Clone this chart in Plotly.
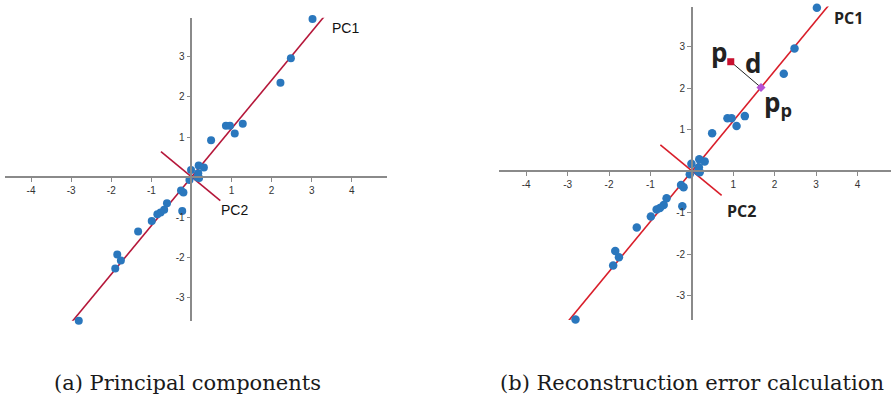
import plotly.graph_objects as go

# Data
pts_x = [3.02, 2.48, 2.22, 0.86, 0.96, 1.28, 1.08, 0.49, 0.18, 0.31, -0.01, 0.17, 0.15, -0.05, 0.19,
         -0.26, -0.20, -0.23, -0.61, -0.68, -0.77, -0.85, -0.99, -1.33, -1.85, -1.76, -1.90, -2.81]
pts_y = [3.94, 2.96, 2.35, 1.28, 1.28, 1.33, 1.09, 0.92, 0.29, 0.24, 0.18, 0.10, 0.00, -0.07, -0.02,
         -0.33, -0.38, -0.84, -0.65, -0.81, -0.88, -0.92, -1.09, -1.35, -1.92, -2.07, -2.27, -3.57]

pc1_x_a = [-3.09, 3.51]
pc1_y_a = [-3.73, 4.24]
pc1_x_b = [-3.02, 3.38]
pc1_y_b = [-3.65, 4.09]
pc2_x = [-0.76, 0.72]
pc2_y = [0.64, -0.58]

p_pt = [0.94, 2.64]
pp_pt = [1.67, 2.02]

x_ticks = [-4, -3, -2, -1, 1, 2, 3, 4]
y_ticks = [-3, -2, -1, 1, 2, 3]

W, H = 891, 400
RED_A = "#b5173a"
RED_B = "#d91e2a"
BLUE = "#2a77bd"
AXC = "#8a8a8a"

fig = go.Figure()

# Panel (a)
fig.add_trace(go.Scatter(x=pc1_x_a, y=pc1_y_a, mode="lines", line=dict(color=RED_A, width=1.6),
                         xaxis="x", yaxis="y", cliponaxis=False, hoverinfo="skip"))
fig.add_trace(go.Scatter(x=pc2_x, y=pc2_y, mode="lines", line=dict(color=RED_A, width=1.6),
                         xaxis="x", yaxis="y", cliponaxis=False, hoverinfo="skip"))
fig.add_trace(go.Scatter(x=pts_x, y=pts_y, mode="markers", marker=dict(color=BLUE, size=8),
                         xaxis="x", yaxis="y", cliponaxis=False))

# Panel (b)
fig.add_trace(go.Scatter(x=pc1_x_b, y=pc1_y_b, mode="lines", line=dict(color=RED_B, width=1.6),
                         xaxis="x2", yaxis="y2", cliponaxis=False, hoverinfo="skip"))
fig.add_trace(go.Scatter(x=pc2_x, y=pc2_y, mode="lines", line=dict(color=RED_B, width=1.6),
                         xaxis="x2", yaxis="y2", cliponaxis=False, hoverinfo="skip"))
fig.add_trace(go.Scatter(x=pts_x, y=pts_y, mode="markers", marker=dict(color=BLUE, size=8.5),
                         xaxis="x2", yaxis="y2", cliponaxis=False))
fig.add_trace(go.Scatter(x=[p_pt[0], pp_pt[0]], y=[p_pt[1], pp_pt[1]], mode="lines",
                         line=dict(color="#222222", width=1), xaxis="x2", yaxis="y2", cliponaxis=False))
fig.add_trace(go.Scatter(x=[p_pt[0]], y=[p_pt[1]], mode="markers",
                         marker=dict(color="#c8102e", size=7, symbol="square"),
                         xaxis="x2", yaxis="y2", cliponaxis=False))
fig.add_trace(go.Scatter(x=[pp_pt[0]], y=[pp_pt[1]], mode="markers",
                         marker=dict(color="#b452d6", size=7, symbol="diamond"),
                         xaxis="x2", yaxis="y2", cliponaxis=False))

# axis geometry (pixels -> paper)
def frac_x(px):
    return px / W

def frac_y(py):
    return (H - py) / H

xa_dom = [frac_x(5), frac_x(386.7)]
ya_dom = [frac_y(320.7), frac_y(17.7)]
xa_rng = [-4.65, 4.87]
ya_rng = [-3.57, 3.97]

xb_dom = [frac_x(499.3), 1.0]
yb_dom = [frac_y(320), frac_y(6.5)]
xb_rng = [-4.65, 4.81]
yb_rng = [-3.58, 3.97]

def zero_pos(dom, rng):
    return dom[0] + (0 - rng[0]) / (rng[1] - rng[0]) * (dom[1] - dom[0])

tickfont = dict(family="Liberation Sans, Arial, sans-serif", size=10, color="#333333")

def xaxis(dom, rng, anchor_pos):
    return dict(domain=dom, range=rng, anchor="free", position=anchor_pos,
                showline=True, linecolor=AXC, linewidth=1.6, showgrid=False, zeroline=False,
                ticks="outside", ticklen=4, tickcolor=AXC, tickwidth=1,
                tickvals=x_ticks, ticktext=[str(v) for v in x_ticks], tickfont=tickfont, fixedrange=True)

def yaxis(dom, rng, anchor_pos):
    return dict(domain=dom, range=rng, anchor="free", position=anchor_pos,
                showline=True, linecolor=AXC, linewidth=1.6, showgrid=False, zeroline=False,
                ticks="outside", ticklen=4, tickcolor=AXC, tickwidth=1,
                tickvals=y_ticks, ticktext=[str(v) for v in y_ticks], tickfont=tickfont, fixedrange=True)

fig.update_layout(
    width=W, height=H, margin=dict(l=0, r=0, t=0, b=0),
    paper_bgcolor="white", plot_bgcolor="white", showlegend=False,
    xaxis=xaxis(xa_dom, xa_rng, zero_pos(ya_dom, ya_rng)),
    yaxis=yaxis(ya_dom, ya_rng, zero_pos(xa_dom, xa_rng)),
    xaxis2=xaxis(xb_dom, xb_rng, zero_pos(yb_dom, yb_rng)),
    yaxis2=yaxis(yb_dom, yb_rng, zero_pos(xb_dom, xb_rng)),
)

lab_a = dict(family="Liberation Sans, Arial, sans-serif", size=14, color="#111111")
lab_b = dict(family="Open Sans, sans-serif", size=16, color="#222222")
big_b = dict(family="Open Sans, sans-serif", size=26, color="#222222")
cap_font = dict(family="DejaVu Serif, serif", size=21, color="#1a1a1a")

annos = [
    dict(x=3.83, y=3.71, xref="x", yref="y", text="PC1", showarrow=False, font=lab_a),
    dict(x=1.08, y=-0.81, xref="x", yref="y", text="PC2", showarrow=False, font=lab_a),
    dict(x=3.78, y=3.69, xref="x2", yref="y2", text="<b>PC1</b>", showarrow=False, font=lab_b),
    dict(x=1.21, y=-0.95, xref="x2", yref="y2", text="<b>PC2</b>", showarrow=False, font=lab_b),
    dict(x=0.66, y=2.88, xref="x2", yref="y2", text="<b>p</b>", showarrow=False, font=big_b),
    dict(x=1.48, y=2.62, xref="x2", yref="y2", text="<b>d</b>", showarrow=False, font=big_b),
    dict(x=2.07, y=1.64, xref="x2", yref="y2", text="<b>p<sub>p</sub></b>", showarrow=False, font=big_b),
    dict(x=187 / W, y=frac_y(383), xref="paper", yref="paper", xanchor="center", yanchor="middle",
         text="(a) Principal components", showarrow=False, font=cap_font),
    dict(x=691.5 / W, y=frac_y(383), xref="paper", yref="paper", xanchor="center", yanchor="middle",
         text="(b) Reconstruction error calculation", showarrow=False, font=cap_font),
]
fig.update_layout(annotations=annos)

fig.write_html("out.html", config={"displayModeBar": False},
               post_script="document.body.style.margin='0px';document.body.style.padding='0px';")
